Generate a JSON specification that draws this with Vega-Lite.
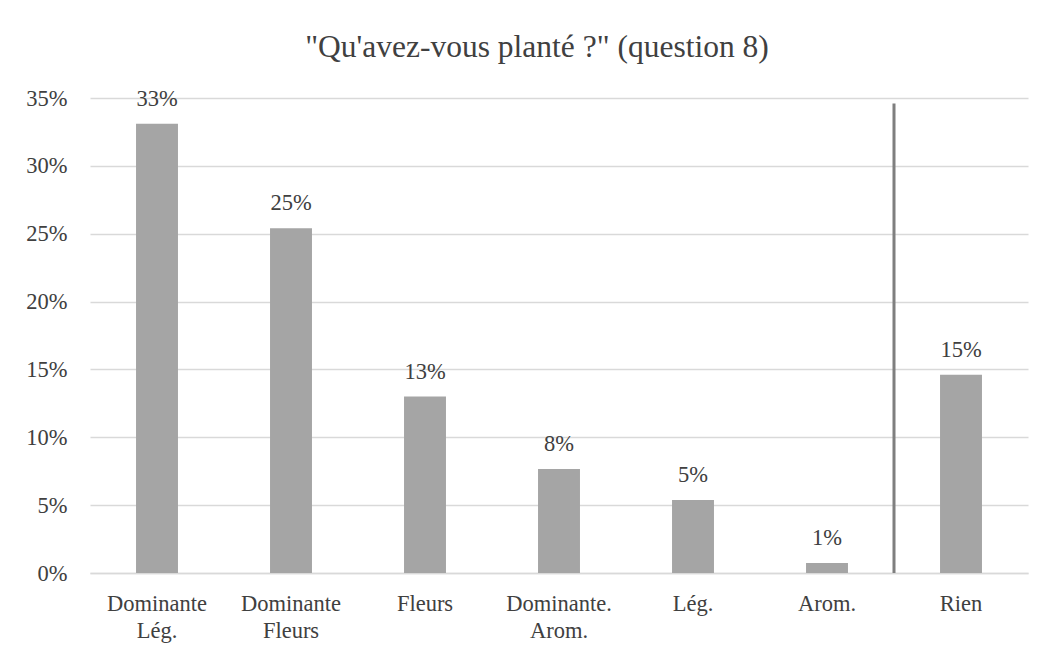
{
  "$schema": "https://vega.github.io/schema/vega-lite/v6.json",
  "width": 938,
  "height": 475,
  "autosize": "none",
  "padding": {"left": 90, "top": 98, "right": 21, "bottom": 82},
  "background": "white",
  "config": {
    "view": {"stroke": null},
    "font": "Liberation Serif",
    "axis": {"labelFont": "Liberation Serif", "labelColor": "#404040"}
  },
  "title": {
    "text": "\"Qu'avez-vous planté ?\" (question 8)",
    "font": "Liberation Serif",
    "fontSize": 31.5,
    "fontWeight": "normal",
    "color": "#404040",
    "anchor": "middle",
    "frame": "group",
    "dx": -22,
    "offset": 24
  },
  "datasets": {
    "bars": [
      {"cat": "Dominante Lég.", "pct": 0.331},
      {"cat": "Dominante Fleurs", "pct": 0.254},
      {"cat": "Fleurs", "pct": 0.130},
      {"cat": "Dominante. Arom.", "pct": 0.0766},
      {"cat": "Lég.", "pct": 0.0538},
      {"cat": "Arom.", "pct": 0.0074},
      {"cat": "Rien", "pct": 0.146}
    ],
    "sep": [{"cat": "Rien", "top": 0.346}]
  },
  "layer": [
    {
      "data": {"name": "bars"},
      "mark": {"type": "bar", "color": "#A5A5A5", "width": {"band": 0.313}},
      "encoding": {
        "x": {
          "field": "cat", "type": "nominal",
          "sort": ["Dominante Lég.", "Dominante Fleurs", "Fleurs", "Dominante. Arom.", "Lég.", "Arom.", "Rien"],
          "scale": {"paddingInner": 0, "paddingOuter": 0},
          "axis": {
            "title": null,
            "labelAngle": 0,
            "labelFontSize": 22.5,
            "labelExpr": "split(datum.value, ' ')",
            "labelLineHeight": 27,
            "labelBaseline": "top",
            "labelPadding": 19,
            "ticks": false,
            "domainColor": "#D9D9D9",
            "domainWidth": 1.5
          }
        },
        "y": {
          "field": "pct", "type": "quantitative",
          "scale": {"domain": [0, 0.35], "nice": false},
          "axis": {
            "title": null,
            "values": [0, 0.05, 0.1, 0.15, 0.2, 0.25, 0.3, 0.35],
            "format": ".0%",
            "labelFontSize": 22.5,
            "labelPadding": 23,
            "ticks": false,
            "domain": false,
            "gridColor": "#D9D9D9",
            "gridWidth": 1.5
          }
        }
      }
    },
    {
      "data": {"name": "bars"},
      "mark": {"type": "text", "fontSize": 22.5, "color": "#404040", "baseline": "middle", "dy": -25, "font": "Liberation Serif"},
      "encoding": {
        "x": {"field": "cat", "type": "nominal", "sort": ["Dominante Lég.", "Dominante Fleurs", "Fleurs", "Dominante. Arom.", "Lég.", "Arom.", "Rien"]},
        "y": {"field": "pct", "type": "quantitative"},
        "text": {"field": "pct", "type": "quantitative", "format": ".0%"}
      }
    },
    {
      "data": {"name": "sep"},
      "mark": {"type": "rule", "color": "#7F7F7F", "strokeWidth": 3},
      "encoding": {
        "x": {"field": "cat", "type": "nominal", "bandPosition": 0, "sort": ["Dominante Lég.", "Dominante Fleurs", "Fleurs", "Dominante. Arom.", "Lég.", "Arom.", "Rien"]},
        "y": {"field": "top", "type": "quantitative"},
        "y2": {"datum": 0}
      }
    }
  ]
}
